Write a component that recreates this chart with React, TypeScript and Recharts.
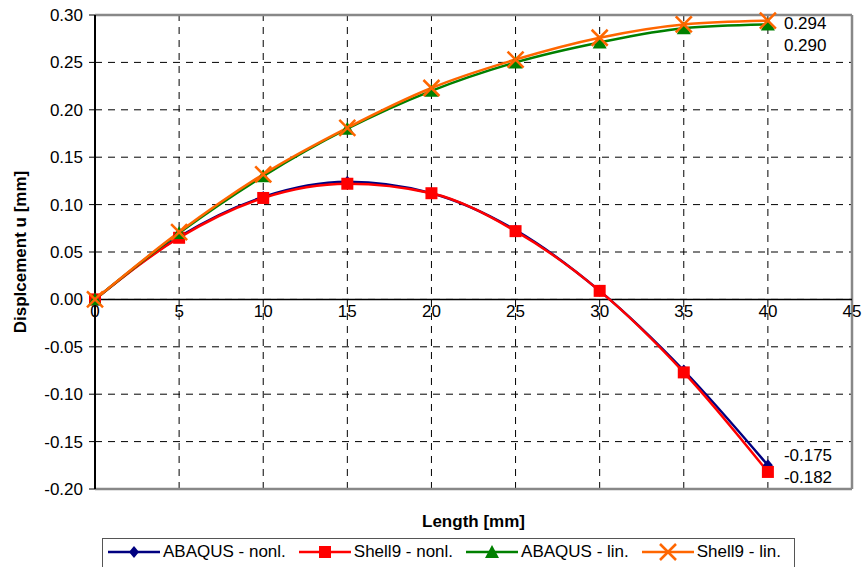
import React from "react"
import {LineChart, Line, XAxis, YAxis, CartesianGrid, ReferenceLine, ReferenceDot, LabelList} from "recharts"

const lengths = [0, 5, 10, 15, 20, 25, 30, 35, 40]
const abaqusNonl = [0, 0.066, 0.108, 0.124, 0.112, 0.073, 0.009, -0.075, -0.175]
const shell9Nonl = [0, 0.065, 0.107, 0.122, 0.112, 0.072, 0.009, -0.077, -0.182]
const abaqusLin = [0, 0.070, 0.130, 0.180, 0.220, 0.250, 0.271, 0.286, 0.290]
const shell9Lin = [0, 0.071, 0.132, 0.181, 0.223, 0.253, 0.276, 0.290, 0.294]

const xTicks = [0, 5, 10, 15, 20, 25, 30, 35, 40, 45]
const yTicks = [0.3, 0.25, 0.2, 0.15, 0.1, 0.05, 0, -0.05, -0.1, -0.15, -0.2]

const data = lengths.map((x, i) => ({
  x,
  abaqusNonl: abaqusNonl[i],
  shell9Nonl: shell9Nonl[i],
  abaqusLin: abaqusLin[i],
  shell9Lin: shell9Lin[i],
}))

const font = "'Liberation Sans', Arial, sans-serif"

const Diamond = ({cx, cy, color}: any) => (
  <polygon points={`${cx},${cy - 6} ${cx + 5},${cy} ${cx},${cy + 6} ${cx - 5},${cy}`} fill={color} />
)
const Square = ({cx, cy, color}: any) => (
  <rect x={cx - 6} y={cy - 6} width={12} height={12} fill={color} />
)
const Triangle = ({cx, cy, color}: any) => (
  <polygon points={`${cx},${cy - 7} ${cx + 7},${cy + 6} ${cx - 7},${cy + 6}`} fill={color} />
)
const Cross = ({cx, cy, color}: any) => (
  <g stroke={color} strokeWidth={2.5}>
    <line x1={cx - 8} y1={cy - 8} x2={cx + 8} y2={cy + 8} />
    <line x1={cx - 8} y1={cy + 8} x2={cx + 8} y2={cy - 8} />
  </g>
)

const series = [
  {key: "abaqusNonl", name: "ABAQUS - nonl.", color: "#000080", Marker: Diamond, dy: -10},
  {key: "shell9Nonl", name: "Shell9 - nonl.", color: "#FF0000", Marker: Square, dy: 6},
  {key: "abaqusLin", name: "ABAQUS - lin.", color: "#008000", Marker: Triangle, dy: 21},
  {key: "shell9Lin", name: "Shell9 - lin.", color: "#FF6600", Marker: Cross, dy: 3},
]

const endLabel = (dy: number) => (props: any) => {
  const {x, y, value, index} = props
  if (index !== lengths.length - 1) return null
  return (
    <text x={x + 16} y={y + dy} dominantBaseline="central" fontSize={17} fontFamily={font} fill="#000">
      {Number(value).toFixed(3)}
    </text>
  )
}

export default function App() {
  return (
    <div style={{position: "absolute", left: 0, top: 0, width: 862, height: 567, background: "#fff"}}>
      <LineChart width={862} height={567} data={data} margin={{top: 15, right: 10, left: 0, bottom: 38}}>
        <CartesianGrid stroke="#000" strokeDasharray="7 6" strokeWidth={1} vertical={false} horizontalValues={yTicks} />
        {xTicks.slice(1, -1).map((t) => (
          <ReferenceLine key={`v${t}`} x={t} stroke="#000" strokeDasharray="7 6" strokeWidth={1} />
        ))}
        <XAxis
          dataKey="x"
          type="number"
          domain={[0, 45]}
          ticks={xTicks}
          tick={false}
          tickLine={false}
          height={40}
          axisLine={{stroke: "#888", strokeWidth: 2.5}}
          label={{value: "Length [mm]", position: "insideBottom", offset: 2, style: {fontFamily: font, fontSize: 17, fontWeight: "bold", fill: "#000"}}}
        />
        <YAxis
          type="number"
          domain={[-0.2, 0.3]}
          ticks={yTicks}
          interval={0}
          width={95}
          tickFormatter={(v: number) => v.toFixed(2)}
          tick={{fontFamily: font, fontSize: 17, fill: "#000"}}
          tickLine={{stroke: "#000"}}
          tickSize={6}
          tickMargin={6}
          axisLine={{stroke: "#000", strokeWidth: 2}}
          label={{value: "Displcement u [mm]", angle: -90, position: "insideLeft", offset: 20, style: {textAnchor: "middle", fontFamily: font, fontSize: 17, fontWeight: "bold", fill: "#000"}}}
        />
        <ReferenceLine y={0.3} stroke="#888" strokeWidth={2.5} />
        <ReferenceLine x={45} stroke="#888" strokeWidth={2.5} />
        <ReferenceLine y={0} stroke="#000" strokeWidth={1.5} />
        {xTicks.map((t) => (
          <ReferenceDot
            key={t}
            x={t}
            y={0}
            r={0}
            fill="none"
            stroke="none"
            label={{value: String(t), position: "bottom", offset: 6, style: {fontFamily: font, fontSize: 17, fill: "#000"}}}
          />
        ))}
        {series.map((s) => (
          <Line
            key={s.key}
            type="monotone"
            dataKey={s.key}
            name={s.name}
            stroke={s.color}
            strokeWidth={2.5}
            isAnimationActive={false}
            dot={(p: any) => <s.Marker key={`${s.key}-${p.index}`} cx={p.cx} cy={p.cy} color={s.color} />}
            activeDot={false}
          >
            <LabelList dataKey={s.key} content={endLabel(s.dy)} />
          </Line>
        ))}
      </LineChart>
      <div
        style={{
          position: "absolute",
          left: 102,
          top: 538,
          width: 693,
          height: 40,
          border: "1px solid #555",
          boxSizing: "border-box",
          display: "flex",
          alignItems: "flex-start",
          paddingTop: 3,
          paddingLeft: 5,
          fontFamily: font,
          fontSize: 17,
          whiteSpace: "nowrap",
        }}
      >
        {series.map((s) => (
          <div key={s.key} style={{display: "flex", alignItems: "center", marginRight: 13}}>
            <svg width={52} height={20}>
              <line x1={0} y1={10} x2={52} y2={10} stroke={s.color} strokeWidth={2.5} />
              <s.Marker cx={26} cy={10} color={s.color} />
            </svg>
            <span style={{marginLeft: 3}}>{s.name}</span>
          </div>
        ))}
      </div>
    </div>
  )
}
